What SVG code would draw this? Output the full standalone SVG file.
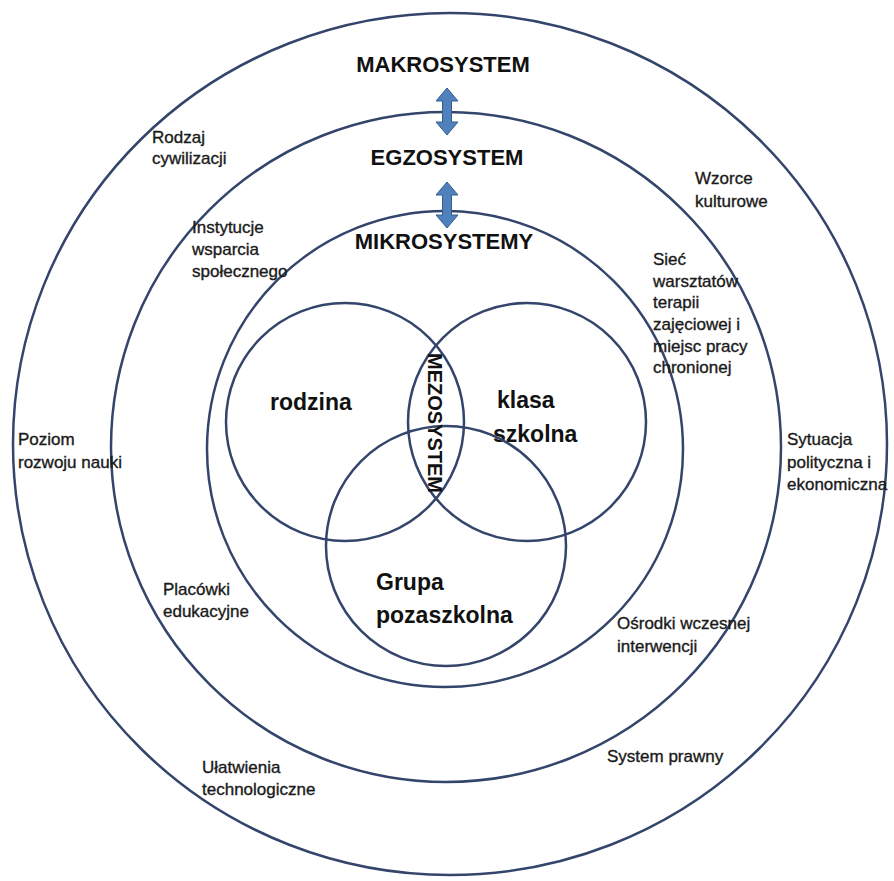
<svg xmlns="http://www.w3.org/2000/svg" width="894" height="881" viewBox="0 0 894 881">
<style>
.ring{fill:none;stroke:#34456b;stroke-width:2.5}
.t{font-family:"Liberation Sans",Arial,sans-serif;font-size:17px;fill:#1a1a1a;stroke:#1a1a1a;stroke-width:0.35}
.h{font-family:"Liberation Sans",Arial,sans-serif;font-size:22px;font-weight:bold;fill:#111;text-anchor:middle}
.b{font-family:"Liberation Sans",Arial,sans-serif;font-size:23px;font-weight:bold;fill:#111}
.arr{fill:#4f81bd;stroke:#385d8a;stroke-width:1}
</style>
<rect width="894" height="881" fill="#fff"/>
<g id="makrosystem">
<ellipse class="ring" cx="450" cy="444" rx="437" ry="431"/>
<text class="h" x="443" y="72">MAKROSYSTEM</text>
</g>
<g id="egzosystem">
<circle class="ring" cx="446" cy="447" r="335"/>
<text class="h" x="447" y="165">EGZOSYSTEM</text>
</g>
<g id="mikrosystemy">
<circle class="ring" cx="445" cy="449" r="238"/>
<text class="h" x="444" y="249">MIKROSYSTEMY</text>
</g>
<g id="rodzina">
<circle class="ring" cx="345" cy="422" r="119"/>
<text class="b" x="270" y="410">rodzina</text>
</g>
<g id="klasa-szkolna">
<circle class="ring" cx="527" cy="422" r="119"/>
<text class="b" x="497" y="408">klasa</text>
<text class="b" x="493" y="442">szkolna</text>
</g>
<g id="grupa-pozaszkolna">
<circle class="ring" cx="446" cy="546" r="120"/>
<text class="b" x="376" y="590">Grupa</text>
<text class="b" x="376" y="623">pozaszkolna</text>
</g>
<g id="mezosystem">
<text class="b" x="428" y="423" text-anchor="middle" transform="rotate(90 428 423)" style="font-size:20px">MEZOSYSTEM</text>
</g>
<g id="connectors">
<path class="arr" d="M447,88 L458,101 L451.5,101 L451.5,122 L458,122 L447,135 L436,122 L442.5,122 L442.5,101 L436,101 Z"/>
<path class="arr" d="M447,182 L458,195 L451.5,195 L451.5,215 L458,215 L447,228 L436,215 L442.5,215 L442.5,195 L436,195 Z"/>
</g>
<g id="label-rodzaj">
<text class="t" x="152" y="143">Rodzaj</text>
<text class="t" x="152" y="164">cywilizacji</text>
</g>
<g id="label-instytucje">
<text class="t" x="192" y="233">Instytucje</text>
<text class="t" x="192" y="255">wsparcia</text>
<text class="t" x="192" y="277">społecznego</text>
</g>
<g id="label-wzorce">
<text class="t" x="695" y="184">Wzorce</text>
<text class="t" x="695" y="207">kulturowe</text>
</g>
<g id="label-siec">
<text class="t" x="653" y="265">Sieć</text>
<text class="t" x="653" y="287">warsztatów</text>
<text class="t" x="653" y="308">terapii</text>
<text class="t" x="653" y="330">zajęciowej i</text>
<text class="t" x="653" y="352">miejsc pracy</text>
<text class="t" x="653" y="373">chronionej</text>
</g>
<g id="label-poziom">
<text class="t" x="18" y="445">Poziom</text>
<text class="t" x="18" y="468">rozwoju nauki</text>
</g>
<g id="label-sytuacja">
<text class="t" x="787" y="445">Sytuacja</text>
<text class="t" x="787" y="468">polityczna i</text>
<text class="t" x="787" y="490">ekonomiczna</text>
</g>
<g id="label-placowki">
<text class="t" x="163" y="595">Placówki</text>
<text class="t" x="163" y="617">edukacyjne</text>
</g>
<g id="label-osrodki">
<text class="t" x="617" y="629">Ośrodki wczesnej</text>
<text class="t" x="617" y="652">interwencji</text>
</g>
<g id="label-system">
<text class="t" x="607" y="762">System prawny</text>
</g>
<g id="label-ulatwienia">
<text class="t" x="202" y="773">Ułatwienia</text>
<text class="t" x="202" y="795">technologiczne</text>
</g>
</svg>
